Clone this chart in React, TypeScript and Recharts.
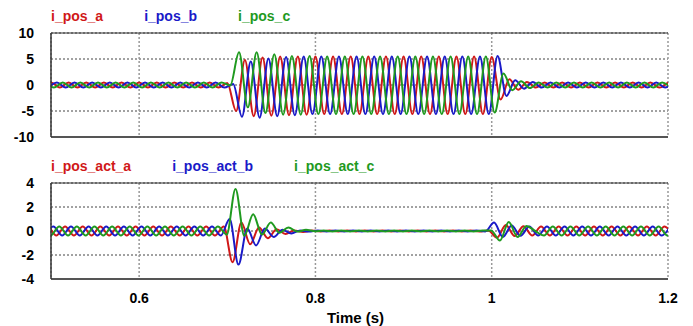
import { LineChart, Line, XAxis, YAxis, CartesianGrid, ReferenceLine } from "recharts";

// one sample per half cycle (50 Hz), each value is a peak or trough
const HALF_CYCLE = 0.01;

const topNames = ["i_pos_a", "i_pos_b", "i_pos_c"];
const bottomNames = ["i_pos_act_a", "i_pos_act_b", "i_pos_act_c"];
const colors = ["#d01818", "#1a1ac8", "#1f9a1f"];

// time of the first extremum of each phase
const topStarts = [0.49, 0.49667, 0.49333];
const bottomStarts = [0.486, 0.49267, 0.48933];

const topTicks = [-10, -5, 0, 5, 10];
const bottomTicks = [-4, -2, 0, 2, 4];
const timeTicks = [0.6, 0.8, 1.0, 1.2];

const topA = [
  -0.5, 0.5, -0.5, 0.5, -0.5, 0.5, -0.5, 0.5, -0.5, 0.5,
  -0.5, 0.5, -0.5, 0.5, -0.5, 0.5, -0.5, 0.5, -0.5, 0.5,
  -0.5,
  0.4, -5.0, 4.8, -6.0, 5.3, -5.9, 5.5, -5.8, 5.5, -5.7,
  5.5, -5.6, 5.5, -5.6, 5.5, -5.6, 5.5, -5.6, 5.5, -5.6,
  5.5, -5.6, 5.5, -5.6, 5.5, -5.6, 5.5, -5.6, 5.5, -5.6,
  5.4, -2.8, 1.1, -0.9, 0.6,
  -0.5, 0.5, -0.5, 0.5, -0.5, 0.5, -0.5, 0.5,
  -0.5, 0.5, -0.5, 0.5, -0.5, 0.5, -0.5, 0.5,
];

const topB = [
  -0.5, 0.5, -0.5, 0.5, -0.5, 0.5, -0.5, 0.5, -0.5, 0.5,
  -0.5, 0.5, -0.5, 0.5, -0.5, 0.5, -0.5, 0.5, -0.5, 0.5,
  -0.5, 0.2, -6.1, 4.5, -6.3, 5.1, -6.0, 5.4, -5.8, 5.5,
  -5.6, 5.5, -5.6, 5.5, -5.6, 5.5, -5.6, 5.5, -5.6, 5.5,
  -5.6, 5.5, -5.6, 5.5, -5.6, 5.5, -5.6, 5.5, -5.6, 5.5,
  -5.6, 5.6, -2.1, 0.9, -0.7, 0.6,
  -0.5, 0.5, -0.5, 0.5, -0.5, 0.5, -0.5, 0.5,
  -0.5, 0.5, -0.5, 0.5, -0.5, 0.5, -0.5, 0.5,
];

const topC = [
  0.5, -0.5, 0.5, -0.5, 0.5, -0.5, 0.5, -0.5, 0.5, -0.5,
  0.5, -0.5, 0.5, -0.5, 0.5, -0.5, 0.5, -0.5, 0.5, -0.5,
  0.5,
  -0.1, 6.3, -4.3, 6.3, -5.4, 5.9, -5.7, 5.6, -5.7, 5.6,
  -5.6, 5.5, -5.6, 5.5, -5.6, 5.5, -5.6, 5.5, -5.6, 5.5,
  -5.6, 5.5, -5.6, 5.5, -5.6, 5.5, -5.6, 5.5, -5.6, 5.5,
  -5.3, 2.2, -1.0, 0.7, -0.6,
  0.5, -0.5, 0.5, -0.5, 0.5, -0.5, 0.5, -0.5,
  0.5, -0.5, 0.5, -0.5, 0.5, -0.5, 0.5, -0.5,
];

const bottomA = [
  -0.38, 0.38, -0.38, 0.38, -0.38, 0.38, -0.38, 0.38, -0.38, 0.38,
  -0.38, 0.38, -0.38, 0.38, -0.38, 0.38, -0.38, 0.38, -0.38, 0.38,
  -0.38, 0.38,
  -2.6, 0.7, -1.1, 0.3, -0.6, 0.15, -0.25, 0.05, -0.08,
  0.04, -0.04, 0.04, -0.04, 0.04, -0.04, 0.04, -0.04, 0.04, -0.04,
  0.04, -0.04, 0.04, -0.04, 0.04, -0.04, 0.04, -0.04, 0.04, -0.04,
  0.05, -0.55, 0.5, -0.42, 0.4,
  -0.38, 0.38, -0.38, 0.38, -0.38, 0.38, -0.38, 0.38,
  -0.38, 0.38, -0.38, 0.38, -0.38, 0.38, -0.38, 0.38, -0.38,
];

const bottomB = [
  -0.38, 0.38, -0.38, 0.38, -0.38, 0.38, -0.38, 0.38, -0.38, 0.38,
  -0.38, 0.38, -0.38, 0.38, -0.38, 0.38, -0.38, 0.38, -0.38, 0.38,
  -0.38,
  1.0, -2.8, 0.2, -1.2, 0.2, -0.5, 0.1, -0.2, 0.05, -0.05,
  0.04, -0.04, 0.04, -0.04, 0.04, -0.04, 0.04, -0.04, 0.04, -0.04,
  0.04, -0.04, 0.04, -0.04, 0.04, -0.04, 0.04, -0.04, 0.04, -0.04,
  0.7, -0.5, 0.45, -0.4,
  0.38, -0.38, 0.38, -0.38, 0.38, -0.38, 0.38, -0.38,
  0.38, -0.38, 0.38, -0.38, 0.38, -0.38, 0.38, -0.38, 0.38,
];

const bottomC = [
  0.38, -0.38, 0.38, -0.38, 0.38, -0.38, 0.38, -0.38, 0.38, -0.38,
  0.38, -0.38, 0.38, -0.38, 0.38, -0.38, 0.38, -0.38, 0.38, -0.38,
  0.38,
  -0.3, 3.5, -0.4, 1.4, -0.3, 0.7, -0.15, 0.3, -0.05, 0.1, -0.03,
  0.04, -0.04, 0.04, -0.04, 0.04, -0.04, 0.04, -0.04, 0.04, -0.04,
  0.04, -0.04, 0.04, -0.04, 0.04, -0.04, 0.04, -0.04, 0.04,
  0.05, -0.8, 0.75, -0.5, 0.42, 0.0,
  -0.38, 0.38, -0.38, 0.38, -0.38, 0.38, -0.38, 0.38,
  -0.38, 0.38, -0.38, 0.38, -0.38, 0.38, -0.38, 0.38,
];

const series = (start: number, values: number[]) =>
  values.map((v, i) => ({ t: start + i * HALF_CYCLE, v }));

const tickStyle = { fill: "#000", fontSize: 14, fontWeight: "bold" };

function Panel({ names, starts, values, ticks, height, marginBottom, showTime }: any) {
  const lo = ticks[0];
  const hi = ticks[ticks.length - 1];
  return (
    <LineChart
      width={693}
      height={height}
      margin={{ top: 33, right: 25, bottom: marginBottom, left: 0 }}
    >
      <CartesianGrid vertical={false} stroke="#444" strokeDasharray="2 2" />
      <CartesianGrid horizontal={false} stroke="#999" strokeDasharray="2 2" strokeWidth={1.5} />
      <XAxis
        type="number"
        dataKey="t"
        domain={[0.5, 1.2]}
        ticks={timeTicks}
        allowDataOverflow
        hide={!showTime}
        height={40}
        axisLine={false}
        tickLine={false}
        tickMargin={8}
        tick={tickStyle}
        tickFormatter={(v) => String(v)}
        label={
          showTime
            ? { value: "Time (s)", position: "insideBottom", offset: -4, dx: -4, fill: "#000", fontSize: 15, fontWeight: "bold" }
            : undefined
        }
      />
      <YAxis
        type="number"
        domain={[lo, hi]}
        ticks={ticks}
        width={51}
        axisLine={{ stroke: "#333", strokeWidth: 1.5 }}
        tickLine={false}
        tickMargin={11}
        tick={tickStyle}
      />
      <ReferenceLine y={hi} stroke="#333" />
      <ReferenceLine y={lo} stroke="#555" strokeWidth={2} />
      {values.map((vals: number[], i: number) => (
        <Line
          key={names[i]}
          data={series(starts[i], vals)}
          dataKey="v"
          name={names[i]}
          type="monotone"
          stroke={colors[i]}
          strokeWidth={2}
          dot={false}
          isAnimationActive={false}
        />
      ))}
    </LineChart>
  );
}

function LegendRow({ names, top }: { names: string[]; top: number }) {
  return (
    <div
      style={{
        position: "absolute",
        left: 51,
        top,
        display: "flex",
        gap: 41,
        fontSize: 14,
        fontWeight: "bold",
        lineHeight: "16px",
      }}
    >
      {names.map((n, i) => (
        <span key={n} style={{ color: colors[i] }}>
          {n}
        </span>
      ))}
    </div>
  );
}

export default function App() {
  return (
    <div
      style={{
        position: "absolute",
        left: 0,
        top: 0,
        width: 693,
        height: 326,
        background: "#fff",
        fontFamily: '"Liberation Sans", Arial, sans-serif',
      }}
    >
      <div style={{ position: "absolute", left: 0, top: 0 }}>
        <Panel
          names={topNames}
          starts={topStarts}
          values={[topA, topB, topC]}
          ticks={topTicks}
          height={150}
          marginBottom={13}
          showTime={false}
        />
      </div>
      <div style={{ position: "absolute", left: 0, top: 150 }}>
        <Panel
          names={bottomNames}
          starts={bottomStarts}
          values={[bottomA, bottomB, bottomC]}
          ticks={bottomTicks}
          height={176}
          marginBottom={7}
          showTime
        />
      </div>
      <LegendRow names={topNames} top={8} />
      <LegendRow names={bottomNames} top={158} />
    </div>
  );
}
